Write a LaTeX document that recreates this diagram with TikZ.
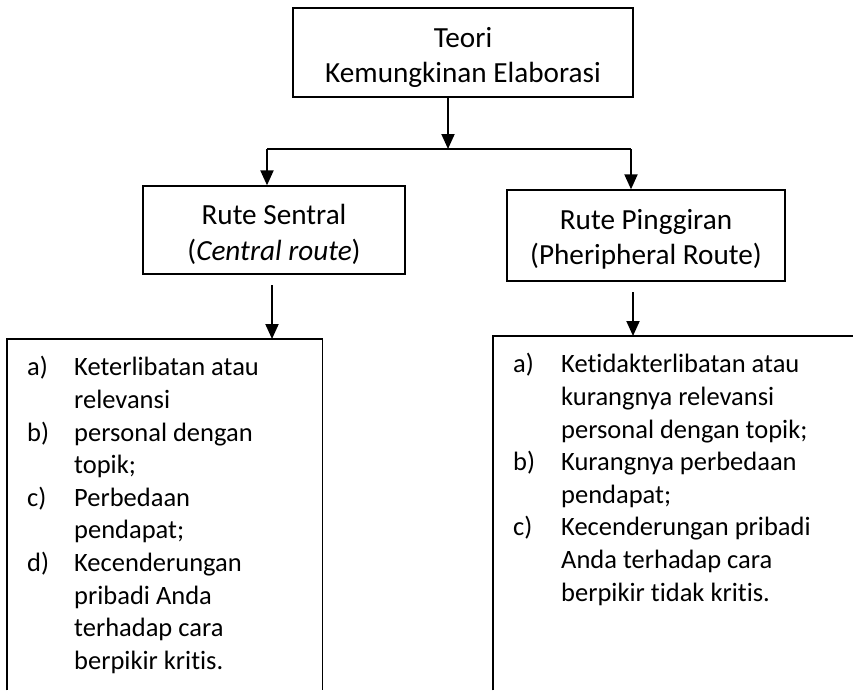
\documentclass[tikz,border=0pt]{standalone}
\usepackage{fontspec}
\setmainfont{Carlito}[Ligatures=CommonOff]
\usetikzlibrary{arrows.meta}
\newcommand\headfont{\fontsize{29.2}{35.6}\selectfont}
\newcommand\itemfont{\fontsize{26.5}{32.6}\selectfont}
\begin{document}
\begin{tikzpicture}[x=1pt,y=-1pt,
  frame/.style={draw=black, line width=1.3pt},
  headbox/.style={frame, inner sep=0pt, align=center, font=\headfont, anchor=base},
  link/.style={line width=1.3pt},
  flow/.style={line width=2pt, -{Triangle[width=13pt,length=15pt]}},
  itemlist/.style={inner sep=0pt, anchor=north west, font=\itemfont},
  openbox/.style={inner sep=0pt, anchor=north west},
]
\useasboundingbox (0,0) rectangle (853,690);

% heading boxes, placed by the baseline of their last line
% (text height = last baseline to top edge, text depth = last baseline to bottom edge)
\node[headbox, minimum width=340pt, text height=75pt, text depth=14pt] (teori) at (463,83)
  {Teori\\Kemungkinan Elaborasi};
\node[headbox, minimum width=262pt, text height=74pt, text depth=14pt] (sentral) at (274,260)
  {Rute Sentral\\(\textit{Central route})};
\node[headbox, minimum width=278pt, text height=74.6pt, text depth=16.4pt] (pinggir) at (646,264.6)
  {Rute Pinggiran\\(Pheripheral Route)};

% branching connector
\coordinate (split) at (448,149);
\coordinate (jl) at (267,149);
\coordinate (jr) at (631,149);
\draw[flow] (teori.south -| split) -- (split);
\draw[link] (jl) -- (jr);
\draw[flow] (jl) -- (sentral.north -| jl);
\draw[flow] (jr) -- (pinggir.north -| jr);

% open-ended list frames
\node[openbox, minimum width=315pt, minimum height=351pt] (cframe) at (7,339) {};
\draw[frame] (cframe.south west) -- (cframe.north west) -- (cframe.north east) -- (cframe.south east);
\node[openbox, minimum width=360pt, minimum height=354pt] (pframe) at (493,336) {};
\draw[frame] (pframe.south west) -- (pframe.north west) -- (pframe.north east);

\coordinate (ca) at (272,285);
\coordinate (pa) at (633,292);
\draw[flow] (ca) -- (ca |- cframe.north);
\draw[flow] (pa) -- (pa |- pframe.north);

% list contents
\node[itemlist] (clist) at (27,352.9) {\begin{tabular}{@{}p{47pt}@{}l@{}}
a) & Keterlibatan atau\\
   & relevansi\\
b) & personal dengan\\
   & topik;\\
c) & Perbedaan\\
   & pendapat;\\
d) & Kecenderungan\\
   & pribadi Anda\\
   & terhadap cara\\
   & berpikir kritis.
\end{tabular}};
\node[itemlist] (plist) at (513,349.9) {\begin{tabular}{@{}p{48pt}@{}l@{}}
a) & Ketidakterlibatan atau\\
   & kurangnya relevansi\\
   & personal dengan topik;\\
b) & Kurangnya perbedaan\\
   & pendapat;\\
c) & Kecenderungan pribadi\\
   & Anda terhadap cara\\
   & berpikir tidak kritis.
\end{tabular}};
\end{tikzpicture}
\end{document}
